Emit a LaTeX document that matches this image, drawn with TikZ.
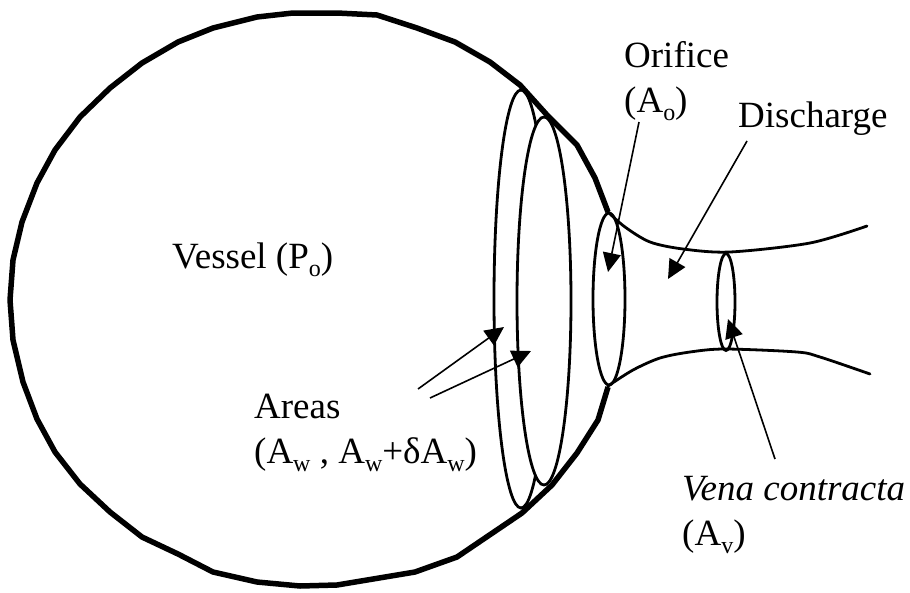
\documentclass[tikz,border=0pt]{standalone}
\usepackage{fontspec}
\setmainfont{Liberation Serif}
\usetikzlibrary{arrows.meta,shapes.geometric}
\newcommand{\lowtxt}[1]{\raisebox{-0.24em}{\fontsize{24}{24}\selectfont #1}}
\begin{document}
\begin{tikzpicture}[
x=1pt, y=-1pt,
wall/.style={line width=5.5pt, line join=round},
rim/.style={draw, ellipse, line width=2.8pt, fill=white, inner sep=0pt},
jet/.style={line width=2.8pt, line cap=round},
leader/.style={-{Triangle[length=19pt,width=18pt]}, line width=1.6pt},
lbl/.style={anchor=base west, inner sep=0pt, align=left, font=\fontsize{37}{45}\selectfont}
]
\useasboundingbox (0,0) rectangle (910,592);
\node[rim, minimum width=54pt, minimum height=418pt] (outer) at (521,299) {};
\node[rim, minimum width=54pt, minimum height=368pt] (inner) at (544,301) {};
\node[rim, minimum width=32pt, minimum height=172pt] (orifice) at (609,299) {};
\node[rim, minimum width=18pt, minimum height=97pt] (vena) at (726,302) {};
\draw[wall] (608,212) -- (595,178) -- (577,145) -- (547,115) -- (520,85) -- (490,62) -- (455,42) -- (417,28) -- (377,15) -- (337,13) -- (293,13) -- (257,17) -- (213,28) -- (178,42) -- (142,63) -- (110,88) -- (80,117) -- (55,150) -- (37,183) -- (22,222) -- (13,260) -- (10,300) -- (13,340) -- (23,382) -- (37,419) -- (55,452) -- (80,484) -- (110,512) -- (142,537) -- (178,554) -- (213,572) -- (257,582) -- (300,586) -- (337,585) -- (415,572) -- (457,557) -- (522,513) -- (552,485) -- (577,453) -- (598,420) -- (608,387);
\draw[jet] plot[smooth, tension=0.5] coordinates {(608,212) (625,227) (650,242) (683,249) (730,252) (810,243) (867,226)};
\draw[jet] plot[smooth, tension=0.5] coordinates {(608,386) (633,370) (660,358) (690,352) (725,349) (797,352) (820,357) (870,374)};
\node[lbl] (vessel) at (172,268) {Vessel (P\lowtxt{o})};
\node[lbl] (orificetxt) at (624,112) {Orifice\\(A\lowtxt{o})};
\node[lbl] (discharge) at (738,127) {Discharge};
\node[lbl] (areas) at (254,463) {Areas\\(A\lowtxt{w} , A\lowtxt{w}+δA\lowtxt{w})};
\node[lbl] (venatxt) at (682,545) {\textit{Vena contracta}\\(A\lowtxt{v})};
\coordinate (orificetail) at (639,122);
\coordinate (orificetip) at (608,272);
\coordinate (dischargetail) at (747,141);
\coordinate (dischargetip) at (668,279);
\coordinate (venatail) at (775,459);
\coordinate (venatip) at (728,319);
\coordinate (outertail) at (418,389);
\coordinate (outertip) at (504,327);
\coordinate (innertail) at (430,398);
\coordinate (innertip) at (531,351);
\draw[leader] (orificetail) -- (orificetip);
\draw[leader] (dischargetail) -- (dischargetip);
\draw[leader] (venatail) -- (venatip);
\draw[leader] (outertail) -- (outertip);
\draw[leader] (innertail) -- (innertip);
\end{tikzpicture}
\end{document}
